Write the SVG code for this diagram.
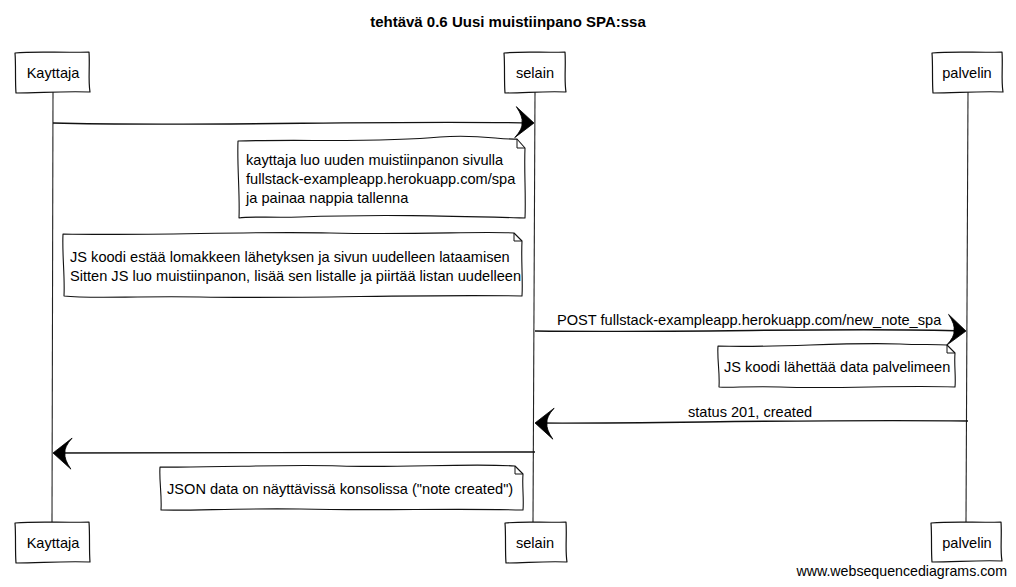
<svg xmlns="http://www.w3.org/2000/svg" width="1016" height="587" viewBox="0 0 1016 587">
<style>
text{font-family:"Liberation Sans",Arial,sans-serif;font-size:14.6px;fill:#000}
.title{font-weight:bold;font-size:15px}
.box{fill:#fff;stroke:#111;stroke-width:1.2;stroke-linejoin:round}
.note{fill:#fff;stroke:#111;stroke-width:1.1;stroke-linejoin:round}
.fold{fill:none;stroke:#111;stroke-width:1}
.life{fill:none;stroke:#222;stroke-width:1.1}
.msg{fill:none;stroke:#111;stroke-width:1.4;marker-end:url(#ah)}
.foot{font-size:14.2px}
</style>
<defs>
<marker id="ah" markerUnits="userSpaceOnUse" orient="auto" refX="0" refY="0" markerWidth="30" markerHeight="40" overflow="visible">
<path d="M1,0 L-17,-16 Q-10,-6 -11,0 Q-10,6 -18,15 Z" fill="#000" stroke="#000" stroke-width="0.8" stroke-linejoin="round"/>
</marker>
</defs>
<rect width="1016" height="587" fill="#fff"/>
<text class="title" x="508" y="27" text-anchor="middle">tehtävä 0.6 Uusi muistiinpano SPA:ssa</text>

<g id="Kayttaja">
<path class="life" d="M53,92 L52,522"/>
<path class="box" d="M15,53 C35,51 62,53 89,52 C90,66 88,80 90,92 C62,91 40,93 16,93 C15,80 16,66 15,53 Z"/>
<text x="53" y="78" text-anchor="middle">Kayttaja</text>
<path class="box" d="M15,523 C40,521 62,523 89,522 C90,536 89,550 90,562 C62,561 40,563 16,563 C15,550 16,536 15,523 Z"/>
<text x="53" y="548" text-anchor="middle">Kayttaja</text>
</g>

<g id="selain">
<path class="life" d="M535,92 L533,522"/>
<path class="box" d="M504,53 C525,51 545,53 565,52 C566,66 564,80 566,92 C545,91 525,93 505,93 C504,80 505,66 504,53 Z"/>
<text x="535" y="78" text-anchor="middle">selain</text>
<path class="box" d="M505,523 C525,521 545,523 566,522 C567,536 565,550 567,562 C545,561 525,563 506,563 C505,550 506,536 505,523 Z"/>
<text x="535" y="548" text-anchor="middle">selain</text>
</g>

<g id="palvelin">
<path class="life" d="M968,92 L966,522"/>
<path class="box" d="M932,53 C955,51 980,53 1002,52 C1003,66 1001,80 1003,92 C980,91 955,93 933,93 C932,80 933,66 932,53 Z"/>
<text x="967" y="78" text-anchor="middle">palvelin</text>
<path class="box" d="M931,523 C955,521 980,523 1001,522 C1002,536 1000,550 1002,561 C980,560 955,562 932,562 C931,550 932,536 931,523 Z"/>
<text x="967" y="548" text-anchor="middle">palvelin</text>
</g>

<g id="connectors">
<path class="msg" d="M53,123 C200,127 380,120 533,123"/>
<path class="msg" d="M535,331 C700,333 850,327 965,331"/>
<text x="557" y="325">POST fullstack-exampleapp.herokuapp.com/new_note_spa</text>
<path class="msg" d="M968,421 C800,419 650,424 536,423"/>
<text x="688" y="417">status 201, created</text>
<path class="msg" d="M535,452 C400,451 200,454 54,453"/>
</g>

<g id="note1">
<path class="note" d="M238,141 C300,139 380,143 440,137 C480,134 500,140 517,139 L525,148 C524,170 526,195 525,218 C450,216 380,214 300,217 C270,218 250,216 239,218 C240,195 237,165 238,141 Z"/>
<path class="fold" d="M517,139 L517,148 L525,148"/>
<text x="246" y="165">kayttaja luo uuden muistiinpanon sivulla</text>
<text x="246" y="184">fullstack-exampleapp.herokuapp.com/spa</text>
<text x="246" y="203">ja painaa nappia tallenna</text>
</g>

<g id="note2">
<path class="note" d="M63,234 C150,236 250,231 330,233 C420,235 480,231 514,233 L522,241 C521,260 523,280 522,296 C420,294 300,299 200,297 C130,296 90,299 64,296 C65,275 62,255 63,234 Z"/>
<path class="fold" d="M514,233 L514,241 L522,241"/>
<text x="70" y="262">JS koodi estää lomakkeen lähetyksen ja sivun uudelleen lataamisen</text>
<text x="70" y="281">Sitten JS luo muistiinpanon, lisää sen listalle ja piirtää listan uudelleen</text>
</g>

<g id="note3">
<path class="note" d="M718,346 C780,348 840,342 900,344 C920,345 935,344 947,345 L955,353 C954,365 956,376 955,387 C900,385 840,389 780,387 C750,386 730,388 719,387 C720,372 717,360 718,346 Z"/>
<path class="fold" d="M947,345 L947,353 L955,353"/>
<text x="724" y="372">JS koodi lähettää data palvelimeen</text>
</g>

<g id="note4">
<path class="note" d="M160,467 C220,468 280,464 340,466 C400,468 470,463 515,466 L523,474 C522,486 524,498 523,510 C450,508 380,511 300,509 C240,508 190,511 161,510 C162,495 159,480 160,467 Z"/>
<path class="fold" d="M515,466 L515,474 L523,474"/>
<text x="167" y="494">JSON data on näyttävissä konsolissa ("note created")</text>
</g>

<text class="foot" x="1007" y="576" text-anchor="end">www.websequencediagrams.com</text>
</svg>
